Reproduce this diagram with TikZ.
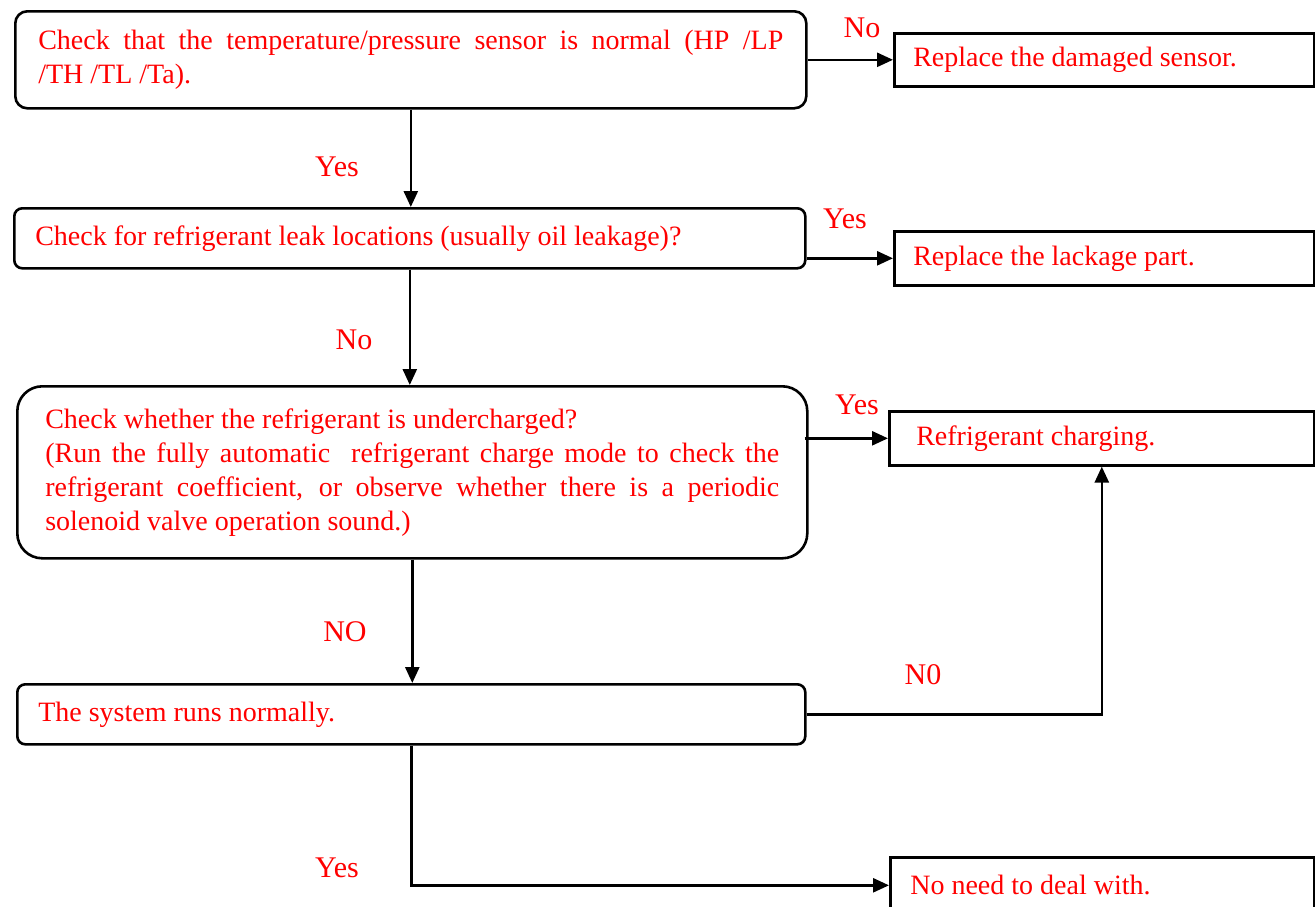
\documentclass[tikz,border=0pt]{standalone}
\usepackage{fontspec}
\setmainfont{Liberation Serif}
\usetikzlibrary{arrows.meta}
\definecolor{txtred}{RGB}{255,0,0}
\newcommand{\jline}[2]{\leavevmode\hbox to #1{\spaceskip=5pt plus 1fil\relax #2}}
\tikzset{
  box/.style={draw=black, line width=2.6pt, anchor=north west, inner ysep=0pt,
    align=left, text=txtred, font=\fontsize{28}{34}\selectfont,
    execute at begin node={\spaceskip=7pt\relax}},
  lbl/.style={text=txtred, font=\fontsize{30}{34}\selectfont, inner sep=0pt},
  arr/.style={draw=black, line width=2.6pt, -{Triangle[length=16pt,width=14pt]}},
}
\begin{document}
\begin{tikzpicture}[x=1pt,y=-1pt]
\useasboundingbox (0,0) rectangle (1315,906);
% main boxes
\node[box, rounded corners=12pt, minimum width=791pt, minimum height=97pt,
  inner xsep=23pt, text width=745pt] (b1) at (14,10)
  {\jline{745pt}{Check that the temperature/pressure sensor is normal (HP /LP}\\\mbox{/TH /TL /Ta).}};
\node[box, rounded corners=8pt, minimum width=791pt, minimum height=60pt,
  inner xsep=21pt, text width=749pt] (b2) at (13,207)
  {\mbox{Check for refrigerant leak locations (usually oil leakage)?}};
\node[box, rounded corners=25pt, minimum width=790pt, minimum height=172pt,
  inner xsep=28pt, text width=734pt] (b3) at (16,385)
  {\mbox{Check whether the refrigerant is undercharged?}\\
   \jline{734pt}{(Run the fully automatic\ \ refrigerant charge mode to check the}\\
   \jline{734pt}{refrigerant coefficient, or observe whether there is a periodic}\\
   \mbox{solenoid valve operation sound.)}};
\node[box, rounded corners=8pt, minimum width=788pt, minimum height=60pt,
  inner xsep=21pt, text width=746pt] (b4) at (16,683)
  {\mbox{The system runs normally.}};
% result boxes
\node[box, minimum width=420pt, minimum height=53pt,
  inner xsep=19pt, text width=382pt] (r1) at (893,32)
  {\mbox{Replace the damaged sensor.}};
\node[box, minimum width=420pt, minimum height=54pt,
  inner xsep=19pt, text width=382pt] (r2) at (893,230)
  {\mbox{Replace the lackage part.}};
\node[box, minimum width=425pt, minimum height=54pt,
  inner xsep=27pt, text width=371pt] (r3) at (888,410)
  {\mbox{Refrigerant charging.}};
\node[box, minimum width=424pt, minimum height=56pt,
  inner xsep=20pt, text width=384pt] (r5) at (889,856)
  {\mbox{No need to deal with.}};
% connectors
\draw[arr] (b1.east) -- (r1.west);
\draw[arr] (b2.east |- r2.west) -- (r2.west);
\draw[arr] ([xshift=-4pt]b3.east |- r3.west) -- (r3.west);
\draw[arr] (b1.south) -- (b1.south |- b2.north);
\draw[arr] (b2.south) -- (b2.south |- b3.north);
\draw[arr] (b3.south) -- (b3.south |- b4.north);
\draw[arr] (b4.east) -| (r3.south);
\draw[arr] (b4.south) |- (r5.west);
% labels
\node[lbl] (l1) at (862,28) {No};
\node[lbl] (l2) at (337,167) {Yes};
\node[lbl] (l3) at (845,219) {Yes};
\node[lbl] (l4) at (354,340) {No};
\node[lbl] (l5) at (857,405) {Yes};
\node[lbl] (l6) at (345,632) {NO};
\node[lbl] (l7) at (923,675) {N0};
\node[lbl] (l8) at (337,868) {Yes};
\end{tikzpicture}
\end{document}
